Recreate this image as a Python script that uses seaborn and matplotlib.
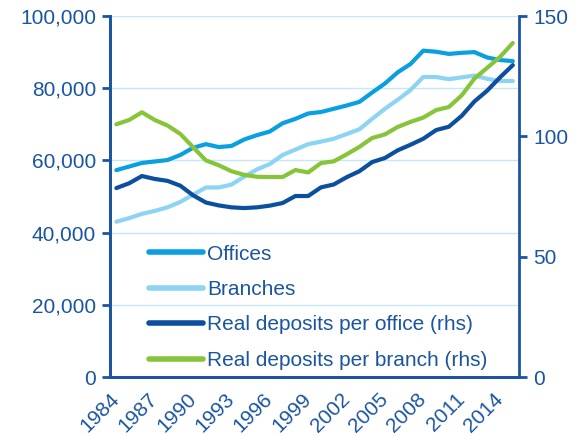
import numpy as np
import pandas as pd
import matplotlib
matplotlib.use("Agg")
import matplotlib.pyplot as plt
import seaborn as sns
from matplotlib.lines import Line2D

years = list(range(1984, 2016))
offices = [57.3, 58.3, 59.3, 59.7, 60.1, 61.5, 63.5, 64.5, 63.7, 64.0, 65.8, 67.0,
           68.0, 70.3, 71.5, 73.0, 73.4, 74.3, 75.2, 76.2, 78.8, 81.3, 84.4, 86.7,
           90.4, 90.1, 89.5, 89.8, 90.0, 88.5, 87.8, 87.5]
branches = [43.0, 44.0, 45.2, 46.0, 47.0, 48.5, 50.5, 52.5, 52.5, 53.3, 55.5, 57.5,
            59.0, 61.5, 63.0, 64.5, 65.2, 66.0, 67.3, 68.6, 71.5, 74.3, 76.8, 79.5,
            83.1, 83.1, 82.5, 83.0, 83.5, 82.6, 82.0, 82.0]
dep_office = [78.5, 80.5, 83.5, 82.3, 81.5, 79.5, 75.5, 72.5, 71.3, 70.5, 70.2, 70.5,
              71.2, 72.3, 75.2, 75.2, 78.8, 80.0, 83.0, 85.5, 89.3, 91.0, 94.2, 96.5,
              99.0, 102.6, 104.0, 108.5, 114.5, 119.0, 124.5, 129.6]
dep_branch = [105.0, 106.8, 110.0, 106.8, 104.5, 101.0, 95.5, 90.0, 88.0, 85.5, 84.0, 83.2,
              83.1, 83.1, 86.0, 85.0, 88.9, 89.6, 92.5, 95.6, 99.3, 100.8, 103.9, 106.0,
              107.8, 110.9, 112.2, 117.0, 124.0, 128.5, 133.0, 138.8]
labels = ["Offices", "Branches", "Real deposits per office (rhs)", "Real deposits per branch (rhs)"]
colors = ["#0A9FE0", "#8DD3F4", "#0B4F9E", "#86C53A"]
label_years = list(range(1984, 2015, 3))

sns.set_theme(style="white")
plt.rcParams['font.family'] = ['Liberation Sans', 'DejaVu Sans']

txt = "#1A55A0"
spine_c = "#1A55A5"
grid_c = "#C4E8F8"

fig = plt.figure(figsize=(5.88, 4.36), dpi=100)
ax = fig.add_axes([0.187, 0.1353, 0.696, 0.828])
ax2 = ax.twinx()

df = pd.DataFrame({"year": years, "offices": np.array(offices) * 1000,
                   "branches": np.array(branches) * 1000,
                   "dep_office": dep_office, "dep_branch": dep_branch})

lw = 3.0
sns.lineplot(data=df, x="year", y="offices", ax=ax, color=colors[0], linewidth=lw)
sns.lineplot(data=df, x="year", y="branches", ax=ax, color=colors[1], linewidth=lw)
sns.lineplot(data=df, x="year", y="dep_office", ax=ax2, color=colors[2], linewidth=lw)
sns.lineplot(data=df, x="year", y="dep_branch", ax=ax2, color=colors[3], linewidth=lw)

ax.set_xlim(1983.5, 2015.5)
ax.set_ylim(0, 100000)
ax2.set_ylim(0, 150)
ax.set_xlabel("")
ax.set_ylabel("")
ax2.set_ylabel("")

ax.set_yticks(np.arange(0, 100001, 20000))
ax.set_yticklabels([f"{v:,}" for v in range(0, 100001, 20000)])
ax2.set_yticks([0, 50, 100, 150])

for y in range(20000, 100001, 20000):
    ax.axhline(y, color=grid_c, linewidth=1.0, zorder=0)

ax.set_xticks(label_years)
ax.set_xticklabels([str(y) for y in label_years], rotation=45, ha="right",
                   va="center", rotation_mode="anchor")
ax.set_xticks(np.arange(1983.5, 2015.6, 2), minor=True)
ax.tick_params(axis="x", which="major", length=0, pad=14, labelsize=15, colors=txt)
ax.tick_params(axis="x", which="minor", length=5, width=2, color=spine_c, direction="out")
ax.tick_params(axis="y", length=6, width=2, color=spine_c, labelsize=15,
               labelcolor=txt, direction="out", pad=4)
ax2.tick_params(axis="y", length=6, width=2, color=spine_c, labelsize=15,
                labelcolor=txt, direction="out", pad=4)

for a in (ax, ax2):
    a.spines["top"].set_visible(False)
    for s in ("left", "right", "bottom"):
        a.spines[s].set_color(spine_c)
        a.spines[s].set_linewidth(2)
ax.spines["right"].set_visible(False)

handles = [Line2D([0], [0], color=c, linewidth=4, solid_capstyle="round") for c in colors]
leg = ax2.legend(handles, labels, loc="upper left", bbox_to_anchor=(0.075, 0.39),
                 frameon=False, fontsize=15, handlelength=2.6, handletextpad=0.2,
                 labelspacing=0.79, borderaxespad=0)
for t in leg.get_texts():
    t.set_color(txt)

fig.savefig("out.png", dpi=100)
